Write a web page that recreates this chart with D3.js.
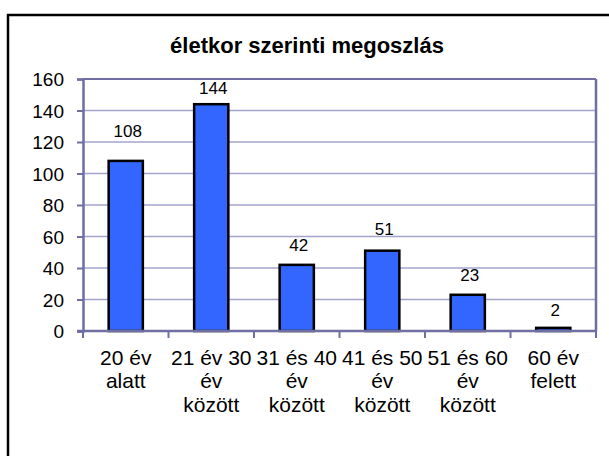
<!DOCTYPE html>
<head lang="en">
<meta charset="utf-8">
<title>életkor szerinti megoszlás</title>
<style>
body { margin:0; background:#fff; }
* { font-family:"Liberation Sans", Arial, sans-serif; }
</style>
<script src="https://cdnjs.cloudflare.com/ajax/libs/d3/7.8.5/d3.min.js"></script>
</head>
<body>
<script>
// chart data
var categories = [
	["20 év", "alatt"],
	["21 év 30", "év", "között"],
	["31 és 40", "év", "között"],
	["41 és 50", "év", "között"],
	["51 és 60", "év", "között"],
	["60 év", "felett"]
];
var values = [108, 144, 42, 51, 23, 2];
var yTicks = [0, 20, 40, 60, 80, 100, 120, 140, 160];
var title = "életkor szerinti megoszlás";

// gap (px) between each value label baseline and its bar top, as placed in the original
var labelGap = [24, 10, 13.5, 15.5, 13.5, 12];

var width = 609, height = 456;
var plot = { left: 83, right: 596, top: 79, bottom: 331 };
var gridColor = "#a3a3cc",
	axisColor = "#6f6fa3";

var svg = d3.select("body").append("svg")
	.attr("width", width)
	.attr("height", height);

// outer frame (runs off the right and bottom edge)
svg.append("rect")
	.attr("x", 8).attr("y", 15)
	.attr("width", 620).attr("height", 470)
	.style("fill", "none")
	.style("stroke", "black")
	.style("stroke-width", "2.5px");

svg.append("text")
	.attr("x", 307).attr("y", 53)
	.attr("text-anchor", "middle")
	.style("font-size", "22px")
	.style("font-weight", "bold")
	.text(title);

var x = d3.scaleBand()
	.domain(d3.range(categories.length))
	.range([plot.left, plot.right])
	.paddingInner(0.6)
	.paddingOuter(0.3);
var xTickScale = d3.scaleLinear().domain([0, categories.length]).range([plot.left, plot.right]);

var y = d3.scaleLinear()
	.domain([0, 160])
	.range([plot.bottom, plot.top]);

// gridlines
svg.selectAll("line.grid")
	.data(yTicks.slice(1))
	.enter()
	.append("line")
		.attr("class", "grid")
		.attr("x1", plot.left).attr("x2", plot.right)
		.attr("y1", function(d) { return y(d); })
		.attr("y2", function(d) { return y(d); })
		.style("stroke", function(d) { return d === 160 ? axisColor : gridColor; })
		.style("stroke-width", function(d) { return d === 160 ? "2px" : "1.5px"; });

// right edge of plot area
svg.append("line")
	.attr("x1", plot.right).attr("x2", plot.right)
	.attr("y1", plot.top).attr("y2", plot.bottom)
	.style("stroke", axisColor)
	.style("stroke-width", "2.5px");

// bars
svg.selectAll("rect.bar")
	.data(values)
	.enter()
	.append("rect")
		.attr("class", "bar")
		.attr("x", function(d, i) { return x(i); })
		.attr("y", function(d) { return y(d); })
		.attr("width", x.bandwidth())
		.attr("height", function(d) { return y(0) - y(d); })
		.style("fill", "#3366ff")
		.style("stroke", "black")
		.style("stroke-width", "2.5px");

// value labels
svg.selectAll("text.val")
	.data(values)
	.enter()
	.append("text")
		.attr("class", "val")
		.attr("x", function(d, i) { return x(i) + x.bandwidth() / 2 + 2; })
		.attr("y", function(d, i) { return y(d) - labelGap[i]; })
		.attr("text-anchor", "middle")
		.style("font-size", "17px")
		.text(function(d) { return d; });

// y axis
var yAxis = svg.append("g")
	.attr("transform", "translate(" + plot.left + ",0)")
	.call(d3.axisLeft(y).tickValues(yTicks).tickSize(6).tickPadding(13));
yAxis.select(".domain").style("stroke", axisColor).style("stroke-width", "2.5px");
yAxis.selectAll(".tick line").style("stroke", axisColor).style("stroke-width", "2px");
yAxis.selectAll(".tick text").style("font-size", "19px").style("fill", "black")
	.attr("dy", "0.36em")
	.style("font-family", "Liberation Sans, Arial, sans-serif");

// x axis line and ticks
svg.append("line")
	.attr("x1", plot.left - 6).attr("x2", plot.right)
	.attr("y1", plot.bottom).attr("y2", plot.bottom)
	.style("stroke", axisColor)
	.style("stroke-width", "2.5px");
svg.selectAll("line.xtick")
	.data(d3.range(categories.length + 1))
	.enter()
	.append("line")
		.attr("class", "xtick")
		.attr("x1", function(d) { return xTickScale(d); })
		.attr("x2", function(d) { return xTickScale(d); })
		.attr("y1", plot.bottom).attr("y2", plot.bottom + 7)
		.style("stroke", axisColor)
		.style("stroke-width", "2px");

// category labels
var catLabels = svg.selectAll("text.cat")
	.data(categories)
	.enter()
	.append("text")
		.attr("class", "cat")
		.attr("text-anchor", "middle")
		.style("font-size", "21px");
catLabels.selectAll("tspan")
	.data(function(d, i) { return d.map(function(t) { return { t: t, i: i }; }); })
	.enter()
	.append("tspan")
		.attr("x", function(d) { return x(d.i) + x.bandwidth() / 2; })
		.attr("y", function(d, j) { return 365 + j * 23.4; })
		.text(function(d) { return d.t; });
</script>
</body>
</html>
